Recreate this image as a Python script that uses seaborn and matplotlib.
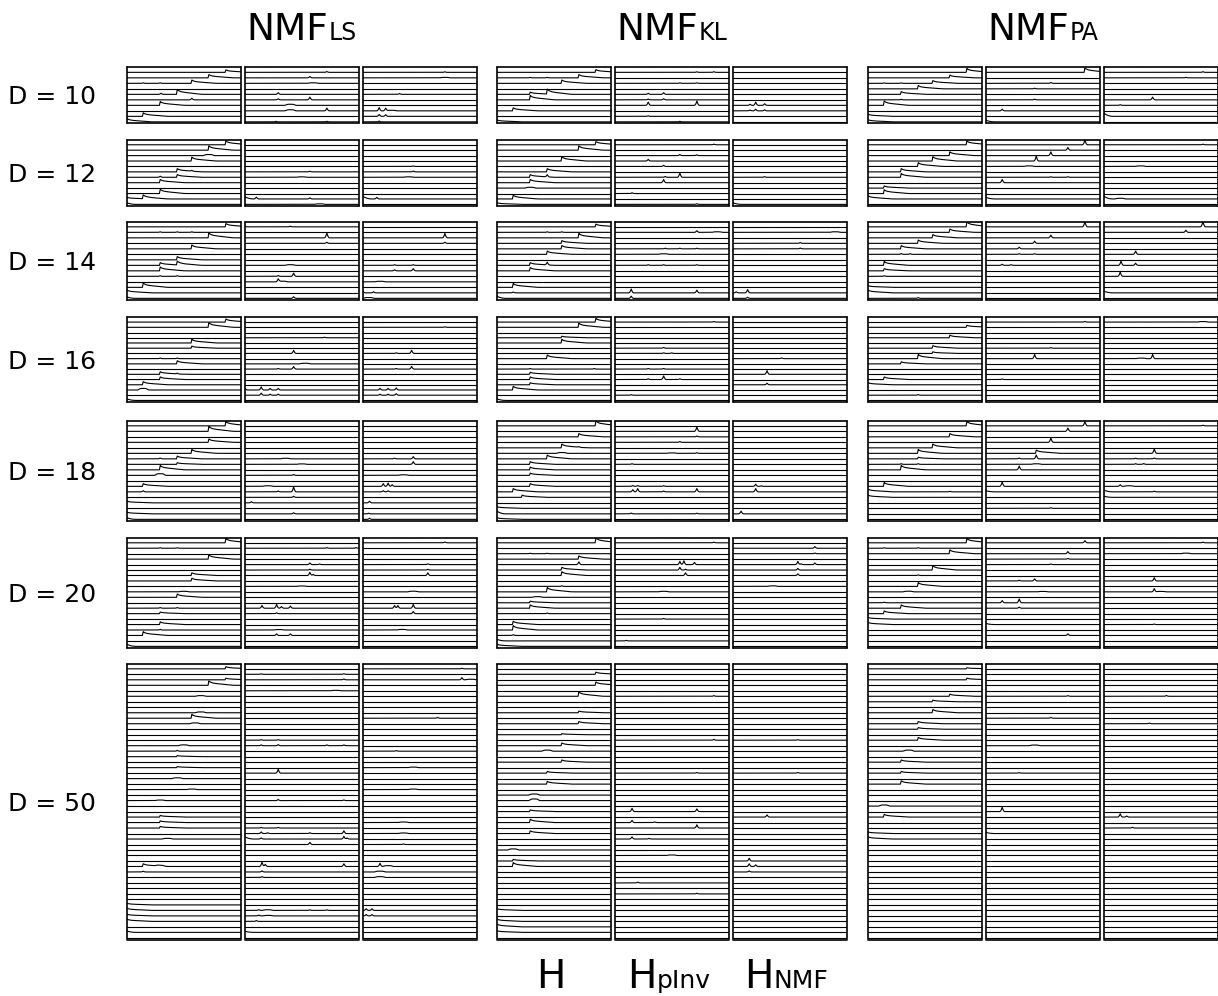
import numpy as np
import pandas as pd
import matplotlib
matplotlib.use("Agg")
import matplotlib.pyplot as plt
import seaborn as sns

# ---------------------------------------------------------------------------
# Layout of the grid: one row per dictionary size D, three methods, three
# activation matrices per method.
# ---------------------------------------------------------------------------
D_VALUES = [10, 12, 14, 16, 18, 20, 50]
METHODS = ["LS", "KL", "PA"]
COLUMNS = ["H", "P", "N"]
COLUMN_MAIN = ["H", "H", "H"]
COLUMN_SUB = ["", "pInv", "NMF"]
N_SAMPLES = 141

# Shapes used to build each activation trace
ONSET_KERNEL = [1.0, 0.84, 0.72, 0.64, 0.58, 0.53, 0.49, 0.46, 0.43, 0.4, 0.38,
                0.36, 0.34, 0.32, 0.3, 0.28, 0.26, 0.24, 0.22, 0.2, 0.18, 0.16,
                0.14, 0.12, 0.1, 0.08, 0.07, 0.05, 0.04, 0.02, 0.01]
FAST_KERNEL = [1.0, 0.8, 0.62, 0.48, 0.36, 0.26, 0.18, 0.11, 0.06, 0.02]
SPIKE_KERNEL = [0.12, 0.45, 1.0, 0.45, 0.12]
BUMP_KERNEL = [0.2, 0.5, 0.8, 0.95, 1.0, 1.0, 1.0, 1.0, 1.0, 0.95, 0.8, 0.5, 0.2]

# Activation events per panel: (trace index, position, height, shape)
# --- D = 10
LS_H_10 = [(0, 0.0, 0.6, 'o'), (1, 0.14, 0.65, 'o'), (3, 0.29, 0.7, 'o'), (5, 0.30, 0.2, 's'),
           (5, 0.44, 0.9, 'o'), (4, 0.57, 0.3, 's'), (7, 0.57, 0.6, 'o'), (8, 0.72, 0.6, 'o'),
           (9, 0.87, 0.45, 'o'), (7, 0.14, 0.1, 's'), (7, 0.29, 0.1, 's')]
LS_P_10 = [(9, 0.72, 0.15, 's'), (8, 0.57, 0.25, 's'), (7, 0.6, 0.1, 'b'), (5, 0.29, 0.3, 's'),
           (4, 0.29, 0.2, 's'), (4, 0.57, 0.5, 's'), (3, 0.40, 0.2, 'b'), (2, 0.40, 0.2, 'b'),
           (2, 0.72, 0.5, 's'), (0, 0.27, 0.1, 's'), (0, 0.72, 0.1, 's')]
LS_N_10 = [(9, 0.72, 0.1, 's'), (8, 0.72, 0.08, 'b'), (5, 0.32, 0.15, 's'), (2, 0.14, 0.6, 's'),
           (2, 0.20, 0.5, 's'), (2, 0.25, 0.1, 'b'), (1, 0.14, 0.35, 's'), (1, 0.20, 0.3, 's'),
           (0, 0.14, 0.15, 's')]
KL_H_10 = [(0, 0.0, 0.35, 'o'), (2, 0.14, 0.55, 'o'), (4, 0.29, 0.8, 'o'), (5, 0.29, 0.4, 'o'),
           (5, 0.44, 0.9, 'o'), (7, 0.57, 0.6, 'o'), (8, 0.72, 0.6, 'o'), (9, 0.87, 0.5, 'o'),
           (8, 0.29, 0.08, 's'), (8, 0.44, 0.08, 's')]
KL_P_10 = [(9, 0.72, 0.1, 's'), (9, 0.87, 0.12, 's'), (7, 0.57, 0.1, 's'), (7, 0.72, 0.1, 's'),
           (5, 0.29, 0.2, 's'), (5, 0.43, 0.3, 's'), (4, 0.29, 0.15, 's'), (4, 0.43, 0.2, 's'),
           (3, 0.29, 0.6, 's'), (3, 0.72, 0.8, 's'), (1, 0.29, 0.1, 's'), (0, 0.57, 0.1, 's')]
KL_N_10 = [(3, 0.15, 0.2, 's'), (3, 0.2, 0.6, 's'), (3, 0.28, 0.3, 's'), (2, 0.15, 0.15, 's'),
           (2, 0.2, 0.3, 's'), (2, 0.28, 0.2, 's')]
PA_H_10 = [(0, 0.0, 0.4, 'o'), (1, 0.0, 0.4, 'o'), (3, 0.14, 0.8, 'o'), (5, 0.29, 0.5, 'o'),
           (6, 0.44, 0.6, 'o'), (7, 0.57, 0.5, 'o'), (8, 0.72, 0.5, 'o'), (9, 0.87, 0.7, 'o'),
           (7, 0.14, 0.08, 's'), (7, 0.29, 0.08, 's'), (4, 0.29, 0.1, 's')]
PA_P_10 = [(9, 0.87, 0.8, 'o'), (7, 0.57, 0.15, 's'), (6, 0.43, 0.12, 's'), (4, 0.43, 0.12, 's'),
           (2, 0.14, 0.3, 's'), (0, 0.0, 0.3, 'f')]
PA_N_10 = [(9, 0.87, 0.12, 's'), (8, 0.72, 0.1, 's'), (4, 0.43, 0.5, 's'), (3, 0.14, 0.12, 's'),
           (1, 0.0, 0.6, 'f')]

# --- D = 12
LS_H_12 = [(0, 0.0, 0.3, 'f'), (1, 0.0, 0.3, 'o'), (1, 0.14, 0.7, 'o'), (2, 0.29, 0.8, 'o'),
           (4, 0.29, 0.6, 'o'), (5, 0.29, 0.2, 's'), (5, 0.44, 0.5, 'o'), (6, 0.44, 0.6, 'o'),
           (6, 0.57, 0.15, 's'), (8, 0.57, 0.7, 'o'), (9, 0.72, 0.2, 'b'), (10, 0.72, 0.8, 'o'),
           (11, 0.87, 0.7, 'o')]
LS_P_12 = [(1, 0.0, 0.4, 'f'), (1, 0.1, 0.35, 's'), (1, 0.57, 0.2, 's'), (0, 0.66, 0.1, 'b'),
           (5, 0.5, 0.08, 'b'), (6, 0.57, 0.12, 's')]
LS_N_12 = [(1, 0.0, 0.5, 'f'), (1, 0.12, 0.3, 's'), (5, 0.4, 0.08, 'b'), (6, 0.44, 0.15, 's'),
           (7, 0.44, 0.1, 's')]
KL_H_12 = [(0, 0.0, 0.3, 'o'), (1, 0.14, 0.7, 'o'), (3, 0.29, 0.15, 'b'), (4, 0.29, 0.6, 'o'),
           (5, 0.29, 0.5, 'o'), (5, 0.44, 0.4, 's'), (6, 0.44, 0.6, 'o'), (8, 0.57, 0.8, 'o'),
           (10, 0.72, 0.8, 'o'), (11, 0.87, 0.6, 'o')]
KL_P_12 = [(11, 0.87, 0.12, 's'), (9, 0.57, 0.2, 's'), (9, 0.72, 0.15, 's'), (8, 0.29, 0.3, 's'),
           (7, 0.43, 0.2, 's'), (5, 0.57, 0.8, 's'), (5, 0.44, 0.15, 's'), (4, 0.43, 0.6, 's'),
           (2, 0.15, 0.15, 's'), (0, 0.72, 0.12, 's')]
KL_N_12 = [(5, 0.28, 0.12, 's'), (0, 0.0, 0.3, 'f')]
PA_H_12 = [(1, 0.0, 0.6, 'o'), (2, 0.14, 0.7, 'o'), (3, 0.14, 0.4, 'o'), (5, 0.29, 0.7, 'o'),
           (6, 0.29, 0.6, 'o'), (7, 0.44, 0.7, 'o'), (8, 0.57, 0.8, 'o'), (9, 0.72, 0.7, 'o'),
           (11, 0.87, 0.7, 'o')]
PA_P_12 = [(11, 0.87, 0.9, 's'), (10, 0.72, 0.5, 's'), (9, 0.57, 0.7, 's'), (8, 0.44, 0.9, 's'),
           (7, 0.38, 0.1, 'b'), (5, 0.57, 0.1, 's'), (5, 0.72, 0.1, 's'), (4, 0.14, 0.6, 's'),
           (1, 0.0, 0.3, 'f')]
PA_N_12 = [(11, 0.87, 0.12, 's'), (7, 0.32, 0.1, 'b'), (1, 0.0, 0.5, 'f'), (1, 0.14, 0.12, 'b')]

# --- D = 14
LS_H_14 = [(0, 0.0, 0.25, 'f'), (1, 0.0, 0.5, 'o'), (2, 0.14, 0.8, 'o'), (4, 0.29, 0.12, 's'),
           (4, 0.44, 0.12, 's'), (5, 0.29, 0.7, 'o'), (6, 0.29, 0.5, 'o'), (6, 0.44, 0.7, 'o'),
           (7, 0.44, 0.6, 'o'), (9, 0.57, 0.7, 'o'), (11, 0.72, 0.9, 'o'), (12, 0.29, 0.1, 's'),
           (12, 0.44, 0.1, 's'), (12, 0.57, 0.1, 's'), (13, 0.87, 0.6, 'o')]
LS_P_14 = [(13, 0.0, 0.1, 's'), (13, 0.4, 0.1, 's'), (11, 0.72, 0.9, 's'), (10, 0.72, 0.2, 's'),
           (6, 0.40, 0.12, 'b'), (4, 0.29, 0.15, 's'), (4, 0.43, 0.6, 's'), (3, 0.29, 0.5, 's'),
           (3, 0.33, 0.12, 'b'), (0, 0.43, 0.3, 's')]
LS_N_14 = [(11, 0.72, 0.8, 's'), (10, 0.72, 0.2, 's'), (6, 0.28, 0.12, 's'), (6, 0.44, 0.12, 's'),
           (5, 0.28, 0.2, 's'), (5, 0.44, 0.4, 's'), (3, 0.15, 0.1, 'b'), (1, 0.0, 0.3, 's'),
           (1, 0.09, 0.2, 's'), (0, 0.05, 0.15, 'b')]
KL_H_14 = [(0, 0.0, 0.4, 'f'), (1, 0.14, 0.15, 's'), (2, 0.14, 0.7, 'o'), (5, 0.29, 0.6, 'o'),
           (6, 0.29, 0.5, 'o'), (6, 0.44, 0.5, 's'), (8, 0.44, 0.6, 'o'), (9, 0.57, 0.6, 'o'),
           (10, 0.57, 0.5, 'o'), (11, 0.72, 0.8, 'o'), (12, 0.44, 0.1, 's'), (12, 0.57, 0.1, 's'),
           (13, 0.87, 0.5, 'o')]
KL_P_14 = [(12, 0.72, 0.3, 's'), (12, 0.9, 0.1, 'b'), (9, 0.44, 0.12, 's'), (9, 0.57, 0.12, 's'),
           (9, 0.72, 0.12, 's'), (8, 0.43, 0.1, 'b'), (6, 0.29, 0.12, 's'), (6, 0.43, 0.12, 's'),
           (6, 0.72, 0.12, 's'), (1, 0.14, 0.7, 's'), (1, 0.72, 0.5, 's'), (0, 0.14, 0.4, 's')]
KL_N_14 = [(12, 0.9, 0.1, 'b'), (10, 0.59, 0.15, 's'), (9, 0.59, 0.15, 's'), (1, 0.03, 0.2, 's'),
           (1, 0.13, 0.6, 's'), (0, 0.13, 0.2, 's')]
PA_H_14 = [(0, 0.44, 0.15, 's'), (1, 0.0, 0.5, 'o'), (2, 0.0, 0.3, 'o'), (4, 0.14, 0.12, 's'),
           (5, 0.14, 0.4, 'o'), (6, 0.14, 0.7, 'o'), (8, 0.29, 0.15, 's'), (8, 0.37, 0.12, 's'),
           (9, 0.29, 0.6, 'o'), (10, 0.44, 0.6, 'o'), (11, 0.57, 0.6, 'o'), (12, 0.72, 0.6, 'o'),
           (13, 0.87, 0.9, 'o')]
PA_P_14 = [(13, 0.87, 0.9, 's'), (11, 0.57, 0.5, 's'), (10, 0.43, 0.4, 's'), (9, 0.29, 0.3, 's'),
           (8, 0.29, 0.12, 's'), (8, 0.43, 0.12, 's'), (6, 0.14, 0.2, 's'), (6, 0.22, 0.12, 's')]
PA_N_14 = [(13, 0.87, 1.0, 's'), (12, 0.72, 0.4, 's'), (8, 0.28, 0.6, 's'), (6, 0.15, 0.8, 's'),
           (6, 0.28, 0.4, 's'), (4, 0.14, 0.8, 's'), (1, 0.0, 0.3, 'f')]

# --- D = 16
LS_H_16 = [(0, 0.0, 0.3, 'f'), (2, 0.14, 0.3, 'b'), (3, 0.14, 0.6, 'o'), (4, 0.29, 0.5, 'o'),
           (5, 0.29, 0.5, 'o'), (5, 0.44, 0.15, 's'), (7, 0.44, 0.6, 'o'), (8, 0.29, 0.12, 's'),
           (8, 0.44, 0.12, 's'), (10, 0.57, 0.4, 'o'), (11, 0.57, 0.7, 'o'), (14, 0.72, 0.9, 'o'),
           (15, 0.87, 0.6, 'o')]
LS_P_16 = [(2, 0.0, 0.3, 's'), (2, 0.14, 0.6, 's'), (2, 0.22, 0.3, 's'), (2, 0.29, 0.3, 's'),
           (1, 0.14, 0.4, 's'), (1, 0.22, 0.2, 's'), (1, 0.29, 0.2, 's'), (6, 0.29, 0.12, 's'),
           (6, 0.43, 0.5, 's'), (7, 0.53, 0.12, 'b'), (9, 0.43, 0.6, 's'), (12, 0.7, 0.1, 's')]
LS_N_16 = [(2, 0.15, 0.3, 's'), (2, 0.22, 0.3, 's'), (2, 0.29, 0.4, 's'), (1, 0.15, 0.2, 's'),
           (1, 0.22, 0.2, 's'), (1, 0.29, 0.3, 's'), (6, 0.29, 0.12, 's'), (6, 0.43, 0.5, 's'),
           (9, 0.29, 0.12, 's'), (9, 0.43, 0.6, 's'), (14, 0.72, 0.1, 's')]
KL_H_16 = [(0, 0.0, 0.3, 'f'), (2, 0.14, 0.7, 'o'), (3, 0.29, 0.4, 'o'), (4, 0.29, 0.5, 'o'),
           (5, 0.29, 0.4, 'o'), (6, 0.29, 0.12, 's'), (6, 0.86, 0.12, 's'), (8, 0.44, 0.7, 'o'),
           (11, 0.57, 0.7, 'o'), (12, 0.57, 0.3, 'o'), (14, 0.72, 0.8, 'o'), (15, 0.87, 0.7, 'o')]
KL_P_16 = [(15, 0.87, 0.12, 's'), (10, 0.43, 0.15, 's'), (9, 0.43, 0.12, 's'), (9, 0.5, 0.12, 's'),
           (6, 0.29, 0.12, 's'), (6, 0.43, 0.12, 's'), (4, 0.43, 0.7, 's'), (4, 0.29, 0.15, 's'),
           (4, 0.57, 0.15, 's'), (1, 0.14, 0.1, 's')]
KL_N_16 = [(8, 0.43, 0.15, 's'), (5, 0.3, 0.7, 's'), (3, 0.3, 0.3, 's')]
PA_H_16 = [(1, 0.44, 0.12, 's'), (3, 0.0, 0.4, 'o'), (4, 0.14, 0.5, 'o'), (7, 0.29, 0.4, 'o'),
           (8, 0.44, 0.8, 'o'), (9, 0.57, 0.3, 'o'), (10, 0.57, 0.5, 'o'), (12, 0.72, 0.5, 'o'),
           (14, 0.87, 0.4, 'o')]
PA_P_16 = [(15, 0.87, 0.12, 's'), (10, 0.57, 0.12, 's'), (8, 0.43, 0.8, 's'), (4, 0.14, 0.12, 's')]
PA_N_16 = [(15, 0.87, 0.1, 'b'), (8, 0.43, 0.8, 's'), (8, 0.33, 0.1, 'b')]

# --- D = 18
LS_H_18 = [(0, 0.0, 0.3, 'f'), (1, 0.0, 0.3, 'o'), (3, 0.0, 0.3, 'o'), (5, 0.14, 0.2, 's'),
           (6, 0.14, 0.5, 'o'), (8, 0.29, 0.3, 'b'), (9, 0.29, 0.8, 'o'), (10, 0.44, 0.3, 'o'),
           (11, 0.29, 0.15, 's'), (11, 0.44, 0.5, 'o'), (12, 0.57, 0.7, 'o'), (14, 0.72, 0.6, 'o'),
           (16, 0.72, 0.9, 'o'), (17, 0.87, 0.8, 'o')]
LS_P_18 = [(11, 0.36, 0.1, 'b'), (10, 0.5, 0.08, 'b'), (8, 0.43, 0.15, 's'), (6, 0.2, 0.1, 'b'),
           (5, 0.29, 0.15, 's'), (5, 0.43, 0.9, 's'), (4, 0.43, 0.2, 's'), (3, 0.06, 0.2, 's'),
           (1, 0.43, 0.2, 's')]
LS_N_18 = [(11, 0.44, 0.4, 's'), (11, 0.28, 0.12, 's'), (10, 0.44, 0.5, 's'), (8, 0.36, 0.1, 'b'),
           (6, 0.18, 0.5, 's'), (6, 0.22, 0.6, 's'), (6, 0.26, 0.3, 's'), (5, 0.18, 0.2, 's'),
           (5, 0.22, 0.2, 's'), (3, 0.06, 0.3, 's'), (1, 0.05, 0.12, 's'), (0, 0.06, 0.2, 's')]
KL_H_18 = [(0, 0.0, 0.3, 'o'), (1, 0.0, 0.5, 'f'), (2, 0.0, 0.3, 'o'), (4, 0.22, 0.4, 'o'),
           (5, 0.14, 0.6, 'o'), (6, 0.29, 0.5, 'o'), (8, 0.29, 0.4, 'o'), (9, 0.29, 0.5, 'o'),
           (10, 0.29, 0.5, 'o'), (11, 0.44, 0.7, 'o'), (12, 0.57, 0.15, 'b'), (13, 0.57, 0.7, 'o'),
           (13, 0.72, 0.12, 's'), (15, 0.72, 0.6, 'o'), (17, 0.87, 0.9, 'o')]
KL_P_18 = [(16, 0.72, 0.8, 's'), (15, 0.72, 0.15, 's'), (14, 0.57, 0.15, 's'), (12, 0.72, 0.12, 's'),
           (12, 0.5, 0.08, 'b'), (10, 0.15, 0.12, 's'), (5, 0.16, 0.4, 's'), (5, 0.2, 0.6, 's'),
           (5, 0.43, 0.15, 's'), (5, 0.72, 0.6, 's'), (6, 0.16, 0.15, 's'), (6, 0.2, 0.15, 's'),
           (6, 0.43, 0.12, 's'), (1, 0.14, 0.15, 's'), (1, 0.72, 0.12, 's')]
KL_N_18 = [(5, 0.2, 0.6, 's'), (6, 0.2, 0.4, 's'), (6, 0.25, 0.1, 's'), (1, 0.07, 0.5, 's')]
PA_H_18 = [(4, 0.0, 0.4, 'o'), (5, 0.0, 0.5, 'o'), (5, 0.72, 0.1, 's'), (6, 0.14, 0.7, 'o'),
           (9, 0.29, 0.8, 'o'), (10, 0.29, 0.12, 's'), (10, 0.44, 0.12, 's'), (11, 0.44, 0.3, 'o'),
           (12, 0.44, 0.7, 'o'), (13, 0.57, 0.7, 'o'), (15, 0.72, 0.6, 'o'), (17, 0.87, 0.8, 'o')]
PA_P_18 = [(17, 0.87, 0.8, 's'), (16, 0.72, 0.6, 's'), (14, 0.57, 0.8, 's'), (12, 0.44, 0.6, 'o'),
           (11, 0.29, 0.15, 's'), (11, 0.44, 0.7, 's'), (10, 0.44, 0.1, 'b'), (9, 0.29, 0.7, 's'),
           (6, 0.14, 0.8, 's'), (5, 0.0, 0.2, 'f'), (2, 0.57, 0.12, 's')]
PA_N_18 = [(17, 0.87, 0.12, 's'), (12, 0.44, 0.8, 's'), (11, 0.44, 0.15, 's'), (11, 0.28, 0.12, 's'),
           (10, 0.28, 0.12, 's'), (10, 0.35, 0.15, 's'), (6, 0.14, 0.3, 's'), (6, 0.22, 0.1, 'b'),
           (5, 0.0, 0.3, 'f'), (5, 0.44, 0.12, 's'), (4, 0.0, 0.2, 'f')]

# --- D = 20
LS_H_20 = [(0, 0.0, 0.4, 'f'), (2, 0.14, 0.7, 'o'), (3, 0.29, 0.12, 's'), (4, 0.29, 0.5, 'o'),
           (6, 0.29, 0.3, 'o'), (7, 0.29, 0.12, 's'), (7, 0.44, 0.12, 's'), (9, 0.44, 0.6, 'o'),
           (10, 0.5, 0.1, 'b'), (12, 0.57, 0.5, 'o'), (13, 0.57, 0.5, 'o'), (16, 0.72, 0.8, 'o'),
           (18, 0.29, 0.1, 's'), (18, 0.44, 0.1, 's'), (19, 0.87, 0.8, 'o')]
LS_P_20 = [(18, 0.72, 0.12, 's'), (18, 0.98, 0.12, 's'), (15, 0.57, 0.3, 's'), (15, 0.66, 0.12, 's'),
           (14, 0.57, 0.15, 's'), (13, 0.57, 0.6, 's'), (13, 0.6, 0.2, 's'), (11, 0.5, 0.08, 'b'),
           (7, 0.15, 0.5, 's'), (7, 0.28, 0.7, 's'), (7, 0.32, 0.3, 's'), (7, 0.4, 0.4, 's'),
           (6, 0.28, 0.15, 's'), (3, 0.3, 0.08, 'b'), (2, 0.28, 0.3, 's'), (2, 0.4, 0.3, 's')]
LS_N_20 = [(19, 0.72, 0.15, 's'), (15, 0.57, 0.15, 's'), (14, 0.57, 0.15, 's'), (13, 0.57, 0.5, 's'),
           (10, 0.44, 0.12, 'b'), (7, 0.28, 0.5, 's'), (7, 0.31, 0.5, 's'), (7, 0.44, 0.7, 's'),
           (6, 0.44, 0.4, 's'), (3, 0.34, 0.1, 'b')]
KL_H_20 = [(0, 0.0, 0.4, 'o'), (1, 0.0, 0.3, 'f'), (2, 0.14, 0.15, 's'), (3, 0.14, 0.8, 'o'),
           (4, 0.14, 0.6, 'o'), (6, 0.44, 0.12, 's'), (7, 0.29, 0.6, 'o'), (8, 0.29, 0.3, 'o'),
           (9, 0.36, 0.12, 'b'), (10, 0.44, 0.8, 'o'), (11, 0.57, 0.12, 's'), (13, 0.57, 0.7, 'o'),
           (14, 0.57, 0.5, 'o'), (15, 0.72, 0.5, 's'), (16, 0.72, 0.6, 'o'), (17, 0.29, 0.08, 's'),
           (17, 0.44, 0.08, 's'), (19, 0.87, 0.9, 'o')]
KL_P_20 = [(19, 0.87, 0.12, 's'), (15, 0.57, 0.6, 's'), (15, 0.61, 0.7, 's'), (15, 0.7, 0.4, 's'),
           (14, 0.57, 0.5, 's'), (14, 0.62, 0.15, 's'), (13, 0.62, 0.5, 's'), (10, 0.43, 0.1, 'b'),
           (5, 0.43, 0.12, 's'), (1, 0.1, 0.1, 's')]
KL_N_20 = [(18, 0.72, 0.3, 's'), (17, 0.72, 0.12, 's'), (15, 0.57, 0.6, 's'), (15, 0.6, 0.15, 's'),
           (15, 0.72, 0.3, 's'), (14, 0.57, 0.3, 's'), (13, 0.57, 0.3, 's'), (11, 0.35, 0.1, 'b')]
PA_H_20 = [(4, 0.0, 0.4, 'o'), (5, 0.0, 0.3, 'o'), (6, 0.14, 0.5, 'o'), (7, 0.29, 0.6, 'o'),
           (8, 0.14, 0.12, 's'), (10, 0.36, 0.12, 'b'), (11, 0.44, 0.7, 'o'), (13, 0.44, 0.12, 's'),
           (14, 0.57, 0.8, 'o'), (17, 0.72, 0.7, 'o'), (18, 0.14, 0.1, 's'), (18, 0.44, 0.1, 's'),
           (19, 0.87, 0.8, 'o')]
PA_P_20 = [(19, 0.87, 0.4, 's'), (17, 0.72, 0.4, 's'), (16, 0.72, 0.12, 's'), (15, 0.57, 0.12, 's'),
           (12, 0.29, 0.12, 's'), (12, 0.43, 0.4, 's'), (10, 0.5, 0.08, 'b'), (8, 0.14, 0.4, 's'),
           (8, 0.29, 0.7, 's'), (7, 0.29, 0.2, 's'), (4, 0.0, 0.2, 'f'), (2, 0.72, 0.3, 's')]
PA_N_20 = [(19, 0.87, 0.12, 's'), (17, 0.72, 0.1, 'b'), (12, 0.44, 0.6, 's'), (10, 0.44, 0.6, 's'),
           (10, 0.5, 0.08, 'b'), (4, 0.44, 0.1, 's')]

# --- D = 50
LS_H_50 = [(1, 0.0, 0.25, 'f'), (3, 0.0, 0.4, 'o'), (4, 0.0, 0.3, 'o'), (5, 0.0, 0.4, 'o'),
           (6, 0.0, 0.3, 'o'), (12, 0.14, 0.15, 's'), (13, 0.14, 0.5, 'o'), (13, 0.29, 0.15, 'b'),
           (18, 0.36, 0.12, 'b'), (20, 0.29, 0.3, 'o'), (21, 0.29, 0.3, 'o'), (22, 0.29, 0.3, 'o'),
           (25, 0.29, 0.1, 'b'), (27, 0.57, 0.1, 'b'), (29, 0.44, 0.15, 'b'), (31, 0.44, 0.2, 'o'),
           (33, 0.44, 0.2, 'o'), (34, 0.44, 0.15, 's'), (35, 0.5, 0.15, 'b'), (39, 0.6, 0.15, 'b'),
           (40, 0.57, 0.7, 'o'), (41, 0.65, 0.15, 'b'), (44, 0.65, 0.12, 'b'), (46, 0.72, 0.8, 'o'),
           (47, 0.87, 0.3, 'o'), (49, 0.87, 0.4, 'o')]
LS_P_50 = [(48, 0.14, 0.1, 's'), (48, 0.87, 0.12, 's'), (47, 0.87, 0.15, 's'), (45, 0.8, 0.08, 'b'),
           (36, 0.14, 0.1, 's'), (36, 0.29, 0.1, 's'), (35, 0.14, 0.15, 's'), (35, 0.29, 0.2, 's'),
           (35, 0.72, 0.15, 's'), (35, 0.87, 0.15, 's'), (30, 0.29, 0.7, 's'), (25, 0.29, 0.2, 's'),
           (25, 0.87, 0.12, 's'), (20, 0.14, 0.12, 's'), (20, 0.29, 0.12, 's'), (19, 0.14, 0.3, 's'),
           (19, 0.2, 0.15, 's'), (19, 0.57, 0.15, 's'), (19, 0.87, 0.5, 's'), (18, 0.0, 0.4, 'f'),
           (18, 0.14, 0.2, 's'), (18, 0.87, 0.5, 's'), (18, 0.9, 0.2, 's'), (17, 0.57, 0.4, 's'),
           (13, 0.15, 0.8, 's'), (13, 0.18, 0.4, 's'), (13, 0.87, 0.5, 's'), (12, 0.15, 0.2, 's'),
           (11, 0.15, 0.15, 's'), (5, 0.12, 0.15, 's'), (5, 0.2, 0.12, 'b'), (5, 0.57, 0.12, 's'),
           (5, 0.72, 0.12, 's'), (4, 0.12, 0.15, 's'), (4, 0.2, 0.1, 'b'), (3, 0.1, 0.15, 's'),
           (1, 0.0, 0.2, 'f')]
LS_N_50 = [(49, 0.87, 0.12, 's'), (47, 0.87, 0.4, 's'), (47, 0.95, 0.1, 'b'), (40, 0.66, 0.15, 's'),
           (34, 0.29, 0.12, 's'), (31, 0.44, 0.1, 'b'), (27, 0.44, 0.1, 'b'), (21, 0.36, 0.1, 'b'),
           (19, 0.36, 0.1, 'b'), (17, 0.36, 0.12, 's'), (13, 0.15, 0.6, 's'), (13, 0.22, 0.15, 'b'),
           (12, 0.15, 0.15, 'b'), (11, 0.15, 0.15, 'b'), (5, 0.03, 0.3, 's'), (5, 0.08, 0.3, 's'),
           (4, 0.03, 0.25, 's'), (4, 0.08, 0.25, 's')]
KL_H_50 = [(1, 0.0, 0.3, 'o'), (2, 0.0, 0.5, 'o'), (3, 0.0, 0.4, 'o'), (5, 0.0, 0.3, 'o'),
           (13, 0.14, 0.7, 'o'), (14, 0.14, 0.3, 'o'), (16, 0.14, 0.2, 'b'), (19, 0.29, 0.5, 'o'),
           (21, 0.29, 0.6, 'o'), (23, 0.29, 0.3, 'o'), (25, 0.33, 0.3, 'b'), (26, 0.33, 0.2, 'b'),
           (28, 0.44, 0.5, 'o'), (30, 0.44, 0.3, 'o'), (32, 0.57, 0.4, 'o'), (34, 0.44, 0.2, 'b'),
           (35, 0.57, 0.5, 'o'), (37, 0.57, 0.2, 'o'), (39, 0.72, 0.4, 'o'), (41, 0.72, 0.3, 'o'),
           (44, 0.72, 0.8, 'o'), (46, 0.87, 0.6, 'o'), (48, 0.87, 0.4, 'o')]
KL_P_50 = [(44, 0.87, 0.12, 's'), (36, 0.87, 0.15, 's'), (30, 0.72, 0.12, 's'), (23, 0.15, 0.6, 's'),
           (23, 0.72, 0.5, 's'), (21, 0.15, 0.4, 's'), (21, 0.35, 0.12, 's'), (20, 0.72, 0.6, 's'),
           (18, 0.15, 0.4, 's'), (18, 0.3, 0.12, 's'), (15, 0.5, 0.1, 'b'), (10, 0.2, 0.15, 's'),
           (8, 0.72, 0.12, 's')]
KL_N_50 = [(30, 0.57, 0.12, 's'), (36, 0.57, 0.1, 's'), (22, 0.3, 0.4, 's'), (14, 0.14, 0.5, 's'),
           (13, 0.14, 0.5, 's'), (13, 0.2, 0.3, 's'), (12, 0.14, 0.2, 's')]
PA_H_50 = [(18, 0.0, 0.4, 'o'), (19, 0.0, 0.3, 'o'), (22, 0.14, 0.5, 'o'), (24, 0.14, 0.2, 'b'),
           (28, 0.29, 0.6, 'o'), (30, 0.29, 0.3, 'o'), (32, 0.29, 0.4, 'o'), (34, 0.36, 0.2, 'b'),
           (36, 0.44, 0.5, 'o'), (38, 0.44, 0.3, 'o'), (39, 0.44, 0.4, 'o'), (41, 0.57, 0.6, 'o'),
           (43, 0.57, 0.3, 'o'), (44, 0.72, 0.4, 'o'), (47, 0.87, 0.3, 'o'), (49, 0.87, 0.2, 'o')]
PA_P_50 = [(44, 0.72, 0.12, 's'), (40, 0.57, 0.15, 's'), (35, 0.43, 0.12, 'b'), (30, 0.29, 0.1, 's'),
           (23, 0.14, 0.8, 's'), (19, 0.0, 0.2, 'f')]
PA_N_50 = [(44, 0.55, 0.15, 's'), (39, 0.4, 0.12, 's'), (22, 0.14, 0.6, 's'), (22, 0.2, 0.2, 's'),
           (20, 0.25, 0.15, 's')]

KERNELS = {
    'o': (np.asarray(ONSET_KERNEL), 0),
    'f': (np.asarray(FAST_KERNEL), 0),
    's': (np.asarray(SPIKE_KERNEL), len(SPIKE_KERNEL) // 2),
    'b': (np.asarray(BUMP_KERNEL), len(BUMP_KERNEL) // 2),
}
PANEL_EVENTS = {(m, c, d): globals()[f"{m}_{c}_{d}"]
                for m in METHODS for c in COLUMNS for d in D_VALUES}


def build_traces(events, n_traces):
    """Stack n_traces activation rows, each offset by its index."""
    values = np.zeros((n_traces, N_SAMPLES))
    for k, pos, amp, kind in events:
        kern, off = KERNELS[kind]
        start = int(round(pos * (N_SAMPLES - 1))) - off
        lo, hi = max(start, 0), min(start + len(kern), N_SAMPLES)
        values[k, lo:hi] += amp * kern[lo - start:hi - start]
    x = np.linspace(0, 1, N_SAMPLES)
    frames = [pd.DataFrame({"x": x, "y": k + values[k], "trace": k})
              for k in range(n_traces)]
    return pd.concat(frames, ignore_index=True)


# ---------------------------------------------------------------------------
# Figure
# ---------------------------------------------------------------------------
sns.set_style("white")
plt.rcParams["font.family"] = ["DejaVu Sans"]
plt.rcParams["text.color"] = "black"

W, H = 1218, 996
fig = plt.figure(figsize=(W / 100, H / 100), dpi=100)

# pixel boxes of the nine columns and of the seven rows
COL_LEFT = [127, 245, 363, 497, 615, 733, 868, 986, 1104]
COL_WIDTH = 113.5
ROW_TOP = [67.5, 140, 222, 317.5, 421, 538, 664]
ROW_BOTTOM = [123.5, 206, 300, 402, 521, 648, 939.5]

for ri, d in enumerate(D_VALUES):
    top, bottom = ROW_TOP[ri], ROW_BOTTOM[ri]
    for mi, m in enumerate(METHODS):
        for ci, c in enumerate(COLUMNS):
            left = COL_LEFT[mi * 3 + ci]
            ax = fig.add_axes([left / W, 1 - bottom / H, COL_WIDTH / W, (bottom - top) / H])
            df = build_traces(PANEL_EVENTS[(m, c, d)], d)
            sns.lineplot(data=df, x="x", y="y", units="trace", estimator=None,
                         color="black", linewidth=0.8, ax=ax, legend=False, sort=False)
            ax.set_xlim(0, 1)
            ax.set_ylim(-0.3, d - 0.12)
            ax.set_xticks([])
            ax.set_yticks([])
            ax.set_xlabel("")
            ax.set_ylabel("")
            for sp in ax.spines.values():
                sp.set_visible(True)
                sp.set_color("black")
                sp.set_linewidth(1.2)
                sp.set_capstyle("round")
                sp.set_joinstyle("round")
    fig.text(8 / W, 1 - ((top + bottom) / 2 + 2) / H, f"D = {d}", fontsize=18,
             ha="left", va="center", color="black")

renderer = fig.canvas.get_renderer()


def subscript_label(x_center, y_base, main, sub, size_main, size_sub):
    """Large text followed by a smaller suffix sharing its baseline."""
    t1 = fig.text(0, 0, main, fontsize=size_main, ha="left", va="baseline", color="black")
    w1 = t1.get_window_extent(renderer).width
    w2 = 0.0
    t2 = None
    if sub:
        t2 = fig.text(0, 0, sub, fontsize=size_sub, ha="left", va="baseline", color="black")
        w2 = t2.get_window_extent(renderer).width
    x0 = x_center - (w1 + w2) / 2
    t1.set_position((x0 / W, 1 - y_base / H))
    if t2 is not None:
        t2.set_position(((x0 + w1) / W, 1 - y_base / H))


# method titles above each group of three panels
for mi, m in enumerate(METHODS):
    xc = (COL_LEFT[mi * 3] + COL_LEFT[mi * 3 + 2] + COL_WIDTH) / 2
    subscript_label(xc, 40, "NMF", m, 27, 17)

# activation-matrix names below the middle group
for ci in range(3):
    xc = COL_LEFT[3 + ci] + COL_WIDTH / 2 - 3
    subscript_label(xc, 988, COLUMN_MAIN[ci], COLUMN_SUB[ci], 28, 18)

fig.savefig("out.png", dpi=100)
